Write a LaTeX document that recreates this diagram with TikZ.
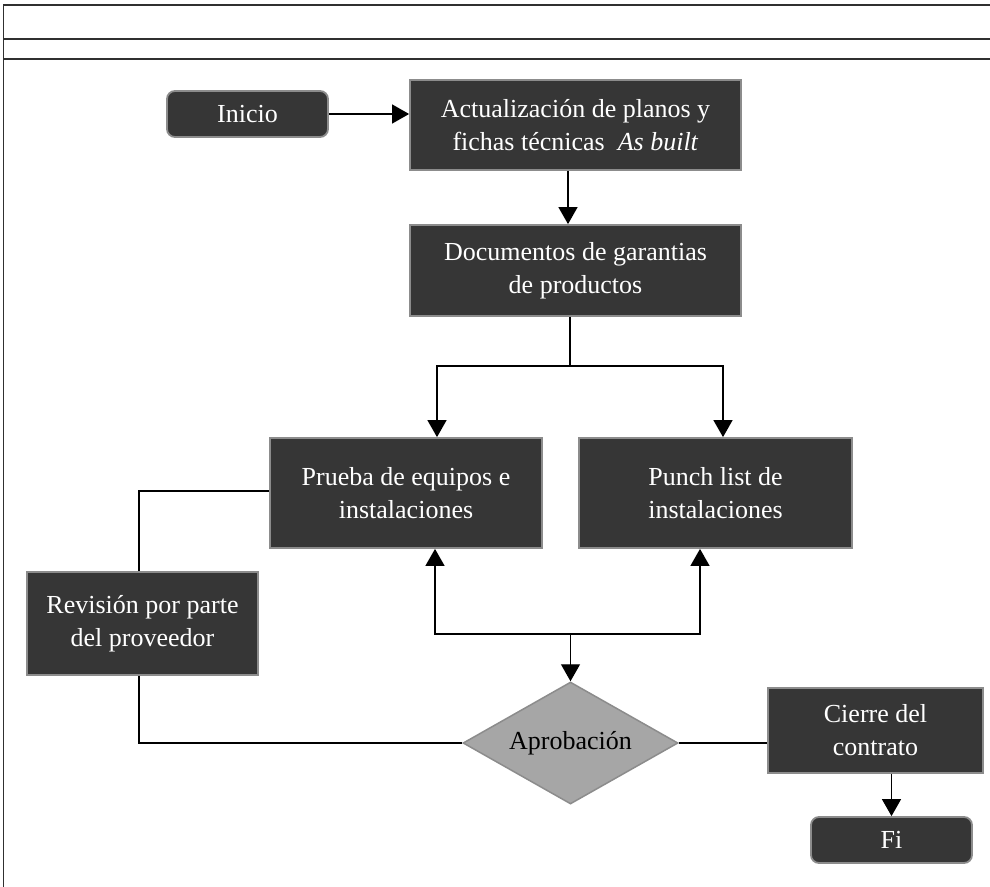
\documentclass[tikz,border=0pt]{standalone}
\usepackage{fontspec}
\setmainfont{Liberation Serif}
\usetikzlibrary{shapes.geometric,arrows.meta}
\definecolor{boxfill}{HTML}{363636}
\definecolor{boxedge}{HTML}{8C8C8C}
\definecolor{decfill}{HTML}{A6A6A6}
\definecolor{framecol}{HTML}{303030}
\tikzset{
  txt/.style={font=\fontsize{26}{33}\selectfont, align=center},
  stepbox/.style={txt, draw=boxedge, line width=1.8pt, fill=boxfill, text=white, inner sep=0pt},
  termbox/.style={stepbox, rounded corners=8pt},
  decbox/.style={txt, diamond, draw=boxedge, line width=1.5pt, fill=decfill, text=black, inner sep=0pt, aspect=1.76},
  link/.style={draw=black, line width=1.3pt},
  arr/.style={link, -{Triangle[length=17pt,width=19pt]}},
  frameline/.style={draw=framecol, line width=1.5pt}
}
\begin{document}
\begin{tikzpicture}[x=1pt,y=-1pt]
  \useasboundingbox (0,0) rectangle (990,886);
  \fill[white] (0,0) rectangle (990,886);
  % table frame around the chart
  \begin{scope}
    \clip (0,0) rectangle (990,886);
    \draw[frameline] (3.5,890) -- (3.5,5) -- (995,5);
    \draw[frameline] (3.5,39) -- (995,39);
    \draw[frameline] (3.5,59) -- (995,59);
  \end{scope}

  % process steps
  \node[termbox, minimum width=161pt, minimum height=46pt] (inicio) at (247.5,114) {Inicio};
  \node[stepbox, minimum width=331pt, minimum height=90pt] (act) at (575.5,125)
    {Actualización de planos y\\fichas técnicas \ \textit{As built}};
  \node[stepbox, minimum width=331pt, minimum height=91pt] (doc) at (575.5,270.5)
    {Documentos de garantias\\de productos};
  \node[stepbox, minimum width=272pt, minimum height=110pt] (prueba) at (406,493)
    {Prueba de equipos e\\instalaciones};
  \node[stepbox, minimum width=273pt, minimum height=110pt] (punch) at (715.5,493)
    {Punch list de\\instalaciones};
  \node[stepbox, minimum width=231pt, minimum height=103pt] (rev) at (142.5,623.5)
    {Revisión por parte\\del proveedor};
  \node[decbox, minimum width=215pt, minimum height=122pt] (apro) at (570.5,743) {Aprobación};
  \node[stepbox, minimum width=215pt, minimum height=85pt] (cierre) at (875.5,730.5)
    {Cierre del\\contrato};
  \node[termbox, minimum width=161pt, minimum height=46pt] (fi) at (891.5,840) {Fi};

  % junction points
  \coordinate (split) at (570,366);
  \coordinate (join) at (570.5,634);

  % connectors
  \draw[arr] (inicio.east) -- (inicio.east -| act.west);
  \draw[arr] ([xshift=-7.5pt]act.south) -- ([xshift=-7.5pt]doc.north);
  \draw[link] (doc.south -| split) -- (split);
  \draw[arr] (split) -| ([xshift=31pt]prueba.north);
  \draw[arr] (split) -| ([xshift=7.5pt]punch.north);
  \draw[arr] (join) -| ([xshift=29pt]prueba.south);
  \draw[arr] (join) -| ([xshift=-15.5pt]punch.south);
  \draw[arr] (join) -- (apro.north);
  \draw[link] ([yshift=2pt]prueba.west) -| ([xshift=-3.5pt]rev.north);
  \draw[link] ([xshift=-3.5pt]rev.south) |- (apro.west);
  \draw[link] (apro.east) -- (apro.east -| cierre.west);
  \draw[arr] (cierre.south -| fi.north) -- (fi.north);
\end{tikzpicture}
\end{document}
